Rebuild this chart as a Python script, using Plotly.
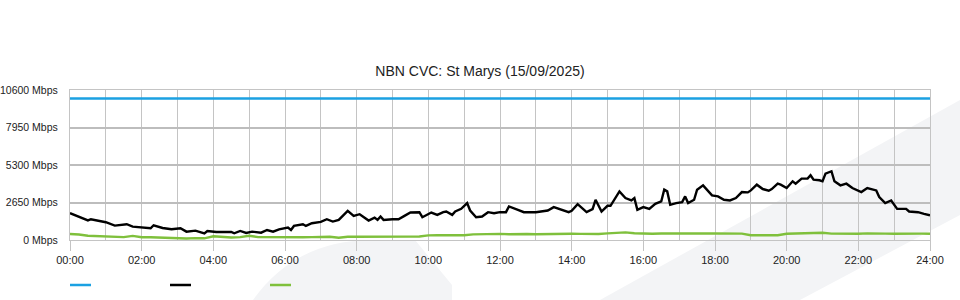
import plotly.graph_objects as go

# ---------------- data ----------------
title_text = "NBN CVC: St Marys (15/09/2025)"
x_tick_labels = ["00:00", "02:00", "04:00", "06:00", "08:00", "10:00", "12:00",
                 "14:00", "16:00", "18:00", "20:00", "22:00", "24:00"]
y_tick_values = [0, 2650, 5300, 7950, 10600]

capacity_minutes = [0, 1440]
capacity_mbps = [10000, 10000]

download_minutes = [0, 15, 30, 35, 50, 60, 75, 95, 105, 120, 135, 140, 155, 170, 185, 195, 205, 210,
                    225, 230, 245, 270, 275, 285, 295, 305, 320, 330, 340, 350, 365, 370, 375, 390,
                    395, 405, 420, 430, 440, 450, 465, 475, 485, 490, 500, 510, 515, 520, 525, 540,
                    550, 560, 570, 585, 590, 605, 615, 625, 630, 640, 645, 655, 665, 670, 680, 690,
                    700, 710, 720, 730, 735, 750, 760, 780, 800, 810, 825, 835, 840, 850, 865, 875,
                    880, 890, 900, 905, 920, 930, 940, 945, 950, 960, 970, 980, 990, 995, 1000, 1005,
                    1015, 1025, 1030, 1035, 1045, 1050, 1060, 1070, 1075, 1085, 1095, 1105, 1115,
                    1125, 1135, 1140, 1150, 1160, 1170, 1175, 1185, 1190, 1200, 1210, 1215, 1225,
                    1235, 1240, 1245, 1255, 1260, 1265, 1275, 1280, 1290, 1300, 1310, 1325, 1335,
                    1350, 1355, 1365, 1375, 1385, 1400, 1405, 1420, 1430, 1440]
download_mbps = [1900, 1655, 1380, 1470, 1370, 1257, 1017, 1114, 946, 875, 828, 1043, 851, 757, 828,
                 590, 638, 661, 472, 638, 567, 567, 472, 638, 496, 590, 519, 709, 590, 757, 875, 709,
                 994, 1114, 994, 1184, 1280, 1470, 1302, 1420, 2061, 1705, 1824, 1657, 1373, 1586,
                 1420, 1657, 1420, 1470, 1470, 1705, 1942, 1966, 1610, 1942, 1776, 1966, 2013, 1776,
                 2013, 2203, 2607, 2085, 1610, 1657, 1966, 1895, 1966, 1966, 2369, 2132, 1966, 1966,
                 2085, 2323, 2085, 1966, 2061, 2536, 1966, 2180, 2843, 2013, 2417, 2417, 3435, 2962,
                 2796, 2962, 2132, 2323, 2203, 2559, 2725, 3555, 3435, 2488, 2607, 2678, 3080, 2607,
                 2840, 3555, 3863, 3435, 3151, 3080, 2843, 2796, 2962, 3388, 3365, 3506, 3910, 3602,
                 3483, 3602, 3981, 3910, 3673, 4147, 3981, 4337, 4337, 4574, 4266, 4219, 4147, 4693,
                 4859, 4147, 3863, 3981, 3673, 3388, 3673, 3506, 3033, 2607, 2796, 2203, 2203, 2013,
                 1966, 1847, 1750]

upload_minutes = list(range(0, 1441, 15))
upload_mbps = [420, 390, 300, 280, 280, 270, 200, 290, 190, 190, 170, 120, 150, 110, 130, 120,
               260, 200, 180, 200, 300, 200, 190, 200, 190, 190, 190, 200, 220, 230, 160, 230,
               230, 240, 230, 250, 240, 230, 240, 250, 330, 340, 330, 320, 340, 400, 420, 400,
               430, 410, 430, 420, 410, 430, 430, 420, 440, 430, 420, 420, 470, 480, 540, 480,
               450, 440, 460, 450, 460, 470, 450, 460, 470, 450, 440, 450, 340, 330, 330, 340,
               440, 450, 500, 520, 510, 450, 430, 460, 440, 470, 440, 450, 440, 460, 430, 450, 440]

colors = {"capacity": "#1ba1e2", "download": "#000000", "upload": "#7fc03c"}

# ---------------- figure ----------------
def hours(mins):
    return [m / 60 for m in mins]

fig = go.Figure()
fig.add_trace(go.Scatter(x=hours(capacity_minutes), y=capacity_mbps, mode="lines",
                         line=dict(color=colors["capacity"], width=2.5), showlegend=False))
fig.add_trace(go.Scatter(x=hours(download_minutes), y=download_mbps, mode="lines",
                         line=dict(color=colors["download"], width=2.4), showlegend=False))
fig.add_trace(go.Scatter(x=hours(upload_minutes), y=upload_mbps, mode="lines",
                         line=dict(color=colors["upload"], width=2.4), showlegend=False))

L, R, T, B = 70, 30, 90, 60
PW, PH = 960 - L - R, 300 - T - B

def px(xp):
    return (xp - L) / PW

def py(yp):
    return (300 - B - yp) / PH

shapes = []
# watermark (light background decoration)
wm = "#f3f4f6"
band = [(960, 100), (960, 215), (800, 300), (600, 300)]
path = "M " + " L ".join(f"{px(a):.4f},{py(b):.4f}" for a, b in band) + " Z"
shapes.append(dict(type="path", path=path, xref="paper", yref="paper",
                   fillcolor=wm, line=dict(width=0), layer="below"))
curve = (f"M {px(253):.4f},{py(300):.4f} Q {px(295):.4f},{py(241):.4f} {px(370):.4f},{py(240):.4f} "
         f"L {px(415):.4f},{py(240):.4f} L {px(452):.4f},{py(285):.4f} L {px(452):.4f},{py(300):.4f} Z")
shapes.append(dict(type="path", path=curve, xref="paper", yref="paper",
                   fillcolor=wm, line=dict(width=0), layer="below"))

# legend swatches (no text)
for i, key in enumerate(["capacity", "download", "upload"]):
    x0 = 70 + 100 * i
    shapes.append(dict(type="line", xref="paper", yref="paper",
                       x0=px(x0), x1=px(x0 + 21), y0=py(285), y1=py(285),
                       line=dict(color=colors[key], width=2.5)))

grid = "#c4c4c4"
fig.update_layout(
    width=960, height=300,
    margin=dict(l=L, r=R, t=T, b=B, autoexpand=False),
    paper_bgcolor="rgba(0,0,0,0)", plot_bgcolor="rgba(0,0,0,0)",
    font=dict(family="Liberation Sans, Arial, sans-serif", size=11, color="#222"),
    title=dict(text=title_text, x=0.5, xref="container", xanchor="center",
               y=1 - 71 / 300, yref="container", yanchor="middle",
               font=dict(size=14, color="#222")),
    shapes=shapes,
    xaxis=dict(range=[0, 24], tickvals=[2 * i for i in range(len(x_tick_labels))],
               ticktext=x_tick_labels, showgrid=True, gridcolor=grid, gridwidth=1.3,
               ticks="outside", ticklen=10, tickcolor=grid, tickwidth=1,
               minor=dict(dtick=1, showgrid=True, gridcolor=grid, gridwidth=1.3),
               showline=True, linecolor=grid, linewidth=1.3, mirror=True,
               zeroline=False, fixedrange=True, automargin=False),
    yaxis=dict(range=[0, 10600], tickvals=y_tick_values,
               ticktext=[f"{v} Mbps" for v in y_tick_values],
               tickfont=dict(size=10.5),
               showgrid=True, gridcolor="#bdbdbd", gridwidth=1.6,
               ticks="", ticklabelstandoff=9,
               showline=True, linecolor=grid, linewidth=1.3, mirror=True,
               zeroline=False, fixedrange=True, automargin=False),
    showlegend=False,
)

fig.write_html("out.html")
